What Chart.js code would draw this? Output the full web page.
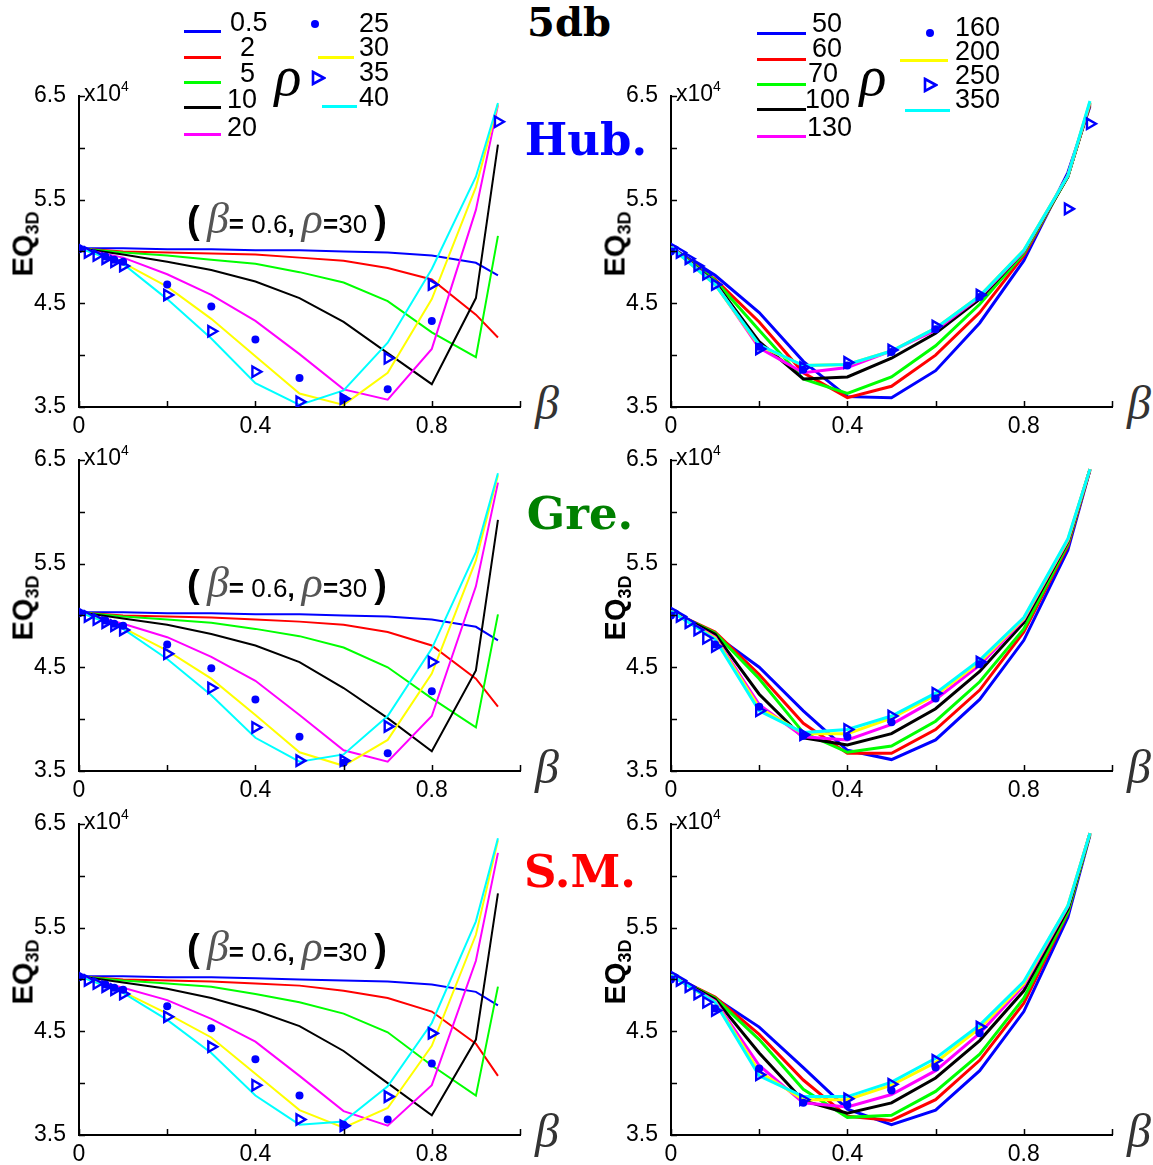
<!DOCTYPE html>
<html>
<head>
<meta charset="utf-8">
<script src="https://cdn.jsdelivr.net/npm/chart.js@4.4.0/dist/chart.umd.min.js"></script>
<style>
  body { margin: 0; background: #fff; width: 1153px; height: 1165px; position: relative; overflow: hidden;
         font-family: "Liberation Sans", Arial, sans-serif; }
  canvas { position: absolute; }
  .t { position: absolute; white-space: nowrap; line-height: 1; color: #000; }
  .c { transform: translate(-50%, -50%); }
  .title { font-family: "DejaVu Serif", serif; font-weight: bold; }
  .greek { font-family: "Liberation Serif", serif; font-style: italic; color: #333; }
  .ylab { font-weight: bold; font-size: 29px; transform: translate(-50%, -50%) rotate(-90deg); }
  .ylab sub { font-size: 18px; vertical-align: -6px; }
  .exp { font-size: 23px; }
  .exp sup { font-size: 14px; vertical-align: 10px; }
  .note { font-size: 26px; }
  .note .par { font-size: 38px; font-weight: bold; }
  .note .g { font-size: 44px; font-family: "Liberation Serif", serif; font-style: italic; color: #555; }
  .leg { font-size: 27px; }
</style>
</head>
<body>
<script>
// beta grid of the lines and of the marker series
const betaLine = [0, 0.1, 0.2, 0.3, 0.4, 0.5, 0.6, 0.7, 0.8, 0.9, 0.95];
const betaMark = [0, 0.02, 0.04, 0.06, 0.08, 0.1, 0.2, 0.3, 0.4, 0.5, 0.6, 0.7, 0.8, 0.9, 0.95];

// rho labels: 7 lines, then dots, then triangles
const rhoLow = ['0.5', '2', '5', '10', '20', '30', '40', '25', '35'];
const rhoHigh = ['50', '60', '70', '100', '130', '200', '350', '160', '250'];
const lineColors = ['#0000ff', '#ff0000', '#00ff00', '#000000', '#ff00ff', '#ffff00', '#00ffff'];
const markColor = '#0000ff';

const xTickLabels = ['0', '0.4', '0.8'];
const yTickLabels = ['3.5', '4.5', '5.5', '6.5'];

// EQ3D (x10^4), Huber, low rho
const hubLowLines = [
  [5.03, 5.03, 5.02, 5.02, 5.01, 5.01, 5.00, 4.99, 4.96, 4.89, 4.77],
  [5.03, 5.00, 4.99, 4.98, 4.97, 4.94, 4.91, 4.84, 4.73, 4.39, 4.17],
  [5.03, 4.99, 4.96, 4.92, 4.88, 4.80, 4.70, 4.52, 4.22, 3.98, 5.15],
  [5.03, 4.97, 4.90, 4.82, 4.71, 4.55, 4.32, 4.02, 3.72, 4.55, 6.03],
  [5.03, 4.94, 4.78, 4.58, 4.33, 4.01, 3.67, 3.57, 4.06, 5.40, 6.41],
  [5.03, 4.89, 4.66, 4.35, 3.99, 3.63, 3.52, 3.83, 4.54, 5.62, 6.42],
  [5.03, 4.88, 4.54, 4.16, 3.73, 3.52, 3.66, 4.12, 4.83, 5.72, 6.43]
];
const hubLowDots = [5.02, null, null, 4.95, 4.92, 4.90, 4.68, 4.47, 4.15, 3.78, 3.58, 3.67, 4.33, null, null];
const hubLowTris = [5.03, 4.99, 4.96, 4.93, 4.90, 4.86, 4.58, 4.23, 3.84, 3.55, 3.58, 3.97, 4.68, null, 6.25];

// Geman-McClure, low rho
const greLowLines = [
  [5.03, 5.03, 5.02, 5.02, 5.01, 5.01, 5.00, 4.99, 4.96, 4.89, 4.76],
  [5.03, 5.00, 4.99, 4.98, 4.96, 4.94, 4.91, 4.84, 4.71, 4.39, 4.12],
  [5.03, 4.99, 4.96, 4.93, 4.87, 4.80, 4.69, 4.50, 4.20, 3.92, 5.01],
  [5.03, 4.97, 4.91, 4.82, 4.71, 4.55, 4.30, 4.01, 3.69, 4.47, 5.92],
  [5.03, 4.92, 4.79, 4.60, 4.37, 4.04, 3.70, 3.59, 4.03, 5.28, 6.28],
  [5.03, 4.88, 4.66, 4.39, 4.04, 3.68, 3.55, 3.80, 4.44, 5.53, 6.35],
  [5.03, 4.87, 4.58, 4.23, 3.82, 3.59, 3.66, 4.03, 4.68, 5.61, 6.37]
];
const greLowDots = [5.02, null, null, 4.95, 4.92, 4.90, 4.72, 4.49, 4.19, 3.83, 3.58, 3.67, 4.27, null, null];
const greLowTris = [5.03, 4.99, 4.96, 4.93, 4.90, 4.86, 4.63, 4.30, 3.92, 3.60, 3.60, 3.93, 4.55, null, null];

// S.M., low rho
const smLowLines = [
  [5.03, 5.03, 5.02, 5.02, 5.01, 5.00, 4.99, 4.98, 4.95, 4.88, 4.75],
  [5.03, 5.00, 4.99, 4.98, 4.96, 4.94, 4.89, 4.82, 4.69, 4.38, 4.07],
  [5.03, 4.99, 4.96, 4.93, 4.86, 4.78, 4.67, 4.49, 4.17, 3.88, 4.93],
  [5.03, 4.97, 4.91, 4.82, 4.70, 4.55, 4.31, 4.00, 3.69, 4.42, 5.83],
  [5.03, 4.92, 4.80, 4.62, 4.40, 4.07, 3.73, 3.59, 3.98, 5.18, 6.22],
  [5.03, 4.88, 4.67, 4.44, 4.09, 3.74, 3.57, 3.76, 4.36, 5.43, 6.34],
  [5.03, 4.87, 4.61, 4.29, 3.88, 3.60, 3.63, 3.97, 4.58, 5.56, 6.36]
];
const smLowDots = [5.02, null, null, 4.95, 4.92, 4.90, 4.74, 4.53, 4.23, 3.88, 3.60, 3.65, 4.19, null, null];
const smLowTris = [5.03, 4.99, 4.96, 4.93, 4.90, 4.86, 4.64, 4.35, 3.98, 3.65, 3.59, 3.87, 4.48, null, null];

// Huber, high rho
const hubHighLines = [
  [5.04, 4.77, 4.41, 3.94, 3.60, 3.59, 3.85, 4.31, 4.91, 5.76, 6.40],
  [5.04, 4.73, 4.32, 3.83, 3.59, 3.70, 4.00, 4.41, 4.96, 5.73, 6.41],
  [5.04, 4.72, 4.24, 3.77, 3.63, 3.79, 4.09, 4.49, 4.98, 5.72, 6.42],
  [5.04, 4.70, 4.13, 3.77, 3.79, 3.97, 4.21, 4.54, 5.00, 5.72, 6.43],
  [5.04, 4.69, 4.07, 3.83, 3.88, 4.04, 4.24, 4.56, 5.00, 5.73, 6.43],
  [5.04, 4.68, 4.09, 3.90, 3.91, 4.04, 4.26, 4.57, 5.01, 5.73, 6.44],
  [5.04, 4.68, 4.10, 3.90, 3.91, 4.04, 4.26, 4.57, 5.01, 5.73, 6.45]
];
const hubHighDots = [5.00, null, null, null, null, null, 4.08, 3.86, 3.90, 4.03, 4.25, 4.56, null, null, null];
const hubHighTris = [5.04, 4.99, 4.93, 4.86, 4.78, 4.68, 4.06, 3.88, 3.93, 4.05, 4.28, 4.58, null, 5.41, 6.23];

// Geman-McClure, high rho
const greHighLines = [
  [5.04, 4.81, 4.50, 4.08, 3.70, 3.61, 3.80, 4.19, 4.76, 5.63, 6.40],
  [5.04, 4.84, 4.43, 3.96, 3.67, 3.67, 3.90, 4.28, 4.84, 5.67, 6.40],
  [5.04, 4.83, 4.39, 3.87, 3.68, 3.74, 3.98, 4.36, 4.87, 5.69, 6.41],
  [5.04, 4.82, 4.24, 3.82, 3.75, 3.86, 4.10, 4.46, 4.93, 5.71, 6.41],
  [5.04, 4.79, 4.14, 3.83, 3.80, 3.95, 4.19, 4.52, 4.96, 5.72, 6.41],
  [5.04, 4.78, 4.11, 3.86, 3.86, 4.01, 4.23, 4.55, 4.97, 5.73, 6.41],
  [5.04, 4.77, 4.08, 3.87, 3.90, 4.03, 4.25, 4.57, 4.98, 5.74, 6.41]
];
const greHighDots = [5.00, null, null, null, null, 4.72, 4.12, 3.84, 3.83, 3.97, 4.20, 4.53, null, null, null];
const greHighTris = [5.04, 4.99, 4.93, 4.86, 4.78, 4.70, 4.08, 3.85, 3.90, 4.03, 4.25, 4.55, null, null, null];

// S.M., high rho
const smHighLines = [
  [5.04, 4.82, 4.54, 4.15, 3.75, 3.60, 3.74, 4.12, 4.69, 5.60, 6.39],
  [5.04, 4.83, 4.47, 4.03, 3.68, 3.64, 3.84, 4.22, 4.77, 5.64, 6.40],
  [5.04, 4.82, 4.42, 3.94, 3.67, 3.69, 3.92, 4.28, 4.82, 5.65, 6.40],
  [5.04, 4.81, 4.29, 3.83, 3.71, 3.81, 4.05, 4.41, 4.89, 5.68, 6.41],
  [5.04, 4.79, 4.17, 3.81, 3.77, 3.89, 4.12, 4.48, 4.94, 5.70, 6.41],
  [5.04, 4.78, 4.11, 3.84, 3.84, 3.98, 4.20, 4.53, 4.96, 5.71, 6.41],
  [5.04, 4.78, 4.07, 3.87, 3.87, 4.01, 4.24, 4.56, 4.98, 5.71, 6.41]
];
const smHighDots = [5.00, null, null, null, null, 4.72, 4.14, 3.81, 3.79, 3.93, 4.15, 4.48, null, null, null];
const smHighTris = [5.04, 4.99, 4.93, 4.86, 4.78, 4.70, 4.08, 3.84, 3.85, 3.99, 4.22, 4.54, null, null, null];

const FONT = '"Liberation Sans", Arial, sans-serif';
const colLeft = [79, 671];
const rowTop = [92, 456, 820];
const AREA_W = 441, AREA_H = 315;
const PAD_L = 70, PAD_T = 15, PAD_R = 10, PAD_B = 35;

const panels = [
  { row: 0, col: 0, lines: hubLowLines, dots: hubLowDots, tris: hubLowTris },
  { row: 0, col: 1, lines: hubHighLines, dots: hubHighDots, tris: hubHighTris },
  { row: 1, col: 0, lines: greLowLines, dots: greLowDots, tris: greLowTris },
  { row: 1, col: 1, lines: greHighLines, dots: greHighDots, tris: greHighTris },
  { row: 2, col: 0, lines: smLowLines, dots: smLowDots, tris: smLowTris },
  { row: 2, col: 1, lines: smHighLines, dots: smHighDots, tris: smHighTris }
];

// matlab style tick marks, drawn inside the axes
const innerTicks = {
  id: 'innerTicks',
  afterDraw(chart) {
    const { ctx, chartArea: a, scales: { x, y } } = chart;
    ctx.save();
    ctx.strokeStyle = '#000';
    ctx.lineWidth = 1.5;
    ctx.beginPath();
    y.ticks.forEach(t => {
      const py = Math.round(y.getPixelForValue(t.value)) + 0.5;
      ctx.moveTo(a.left, py);
      ctx.lineTo(a.left + 6, py);
    });
    x.ticks.forEach(t => {
      const px = Math.round(x.getPixelForValue(t.value)) + 0.5;
      ctx.moveTo(px, a.bottom);
      ctx.lineTo(px, a.bottom - 6);
    });
    ctx.stroke();
    ctx.restore();
  }
};

function addText(html, cls, x, y, style) {
  const d = document.createElement('div');
  d.className = 't ' + cls;
  d.innerHTML = html;
  d.style.left = x + 'px';
  d.style.top = y + 'px';
  if (style) Object.assign(d.style, style);
  document.body.appendChild(d);
  return d;
}

function makePanel(p) {
  const left = colLeft[p.col], top = rowTop[p.row];
  const cv = document.createElement('canvas');
  cv.width = PAD_L + AREA_W + PAD_R;
  cv.height = PAD_T + AREA_H + PAD_B;
  cv.style.left = (left - PAD_L) + 'px';
  cv.style.top = (top - PAD_T) + 'px';
  document.body.appendChild(cv);

  const lw = p.col === 0 ? 2 : 3;
  const datasets = p.lines.map((vals, i) => ({
    data: betaLine.map((b, j) => ({ x: b, y: vals[j] })),
    borderColor: lineColors[i],
    borderWidth: lw,
    pointRadius: 0,
    tension: 0,
    fill: false,
    order: 10 - i
  }));
  datasets.push({
    data: betaMark.map((b, j) => ({ x: b, y: p.dots[j] })),
    showLine: false,
    pointStyle: 'circle',
    pointRadius: 4,
    pointBackgroundColor: markColor,
    pointBorderWidth: 0,
    order: 1
  });
  datasets.push({
    data: betaMark.map((b, j) => ({ x: b, y: p.tris[j] })),
    showLine: false,
    pointStyle: 'triangle',
    pointRotation: 90,
    pointRadius: 6,
    pointBackgroundColor: 'rgba(255,255,255,0)',
    pointBorderColor: markColor,
    pointBorderWidth: 2.4,
    order: 0
  });

  new Chart(cv, {
    type: 'line',
    data: { datasets },
    options: {
      responsive: false,
      animation: false,
      devicePixelRatio: 1,
      layout: { padding: { top: PAD_T, right: PAD_R, left: 0, bottom: 0 } },
      plugins: { legend: { display: false }, tooltip: { enabled: false } },
      scales: {
        x: {
          type: 'linear', min: 0, max: 1,
          afterFit(s) { s.height = PAD_B; },
          grid: { display: false },
          border: { display: true, color: '#000', width: 2 },
          ticks: {
            stepSize: 0.2, autoSkip: false, maxRotation: 0, padding: -2, color: '#000',
            font: { family: FONT, size: 23 },
            callback: v => {
              const s = String(Math.round(v * 10) / 10);
              return xTickLabels.includes(s) ? s : '';
            }
          }
        },
        y: {
          min: 3.5, max: 6.5,
          afterFit(s) { s.width = PAD_L; },
          grid: { display: false },
          border: { display: true, color: '#000', width: 2 },
          ticks: {
            stepSize: 0.5, autoSkip: false, padding: 5, color: '#000',
            font: { family: FONT, size: 23 },
            callback: v => {
              const s = v.toFixed(1);
              return yTickLabels.includes(s) ? s : '';
            }
          }
        }
      }
    },
    plugins: [innerTicks]
  });

  addText('x10<sup>4</sup>', 'exp', left + 5, top - 13);
  addText('EQ<sub>3D</sub>', 'ylab', left - 54, top + 152);
  addText('β', 'greek c', left + 468, top + AREA_H - 4, { fontSize: '48px' });
  if (p.col === 0) {
    addText('<span class="par">(</span> <span class="g">β</span><b>=</b> 0.6<b>,</b> <span class="g">ρ</span><b>=</b>30 <span class="par">)</span>',
      'note c', left + 208, top + 127);
  }
}

panels.forEach(makePanel);

// titles
addText('5db', 'title c', 569, 22, { fontSize: '40px' });
addText('Hub.', 'title c', 586, 139, { fontSize: '45px', color: '#0000ff' });
addText('Gre.', 'title c', 580, 513, { fontSize: '45px', color: '#008000' });
addText('S.M.', 'title c', 580, 871, { fontSize: '45px', color: '#ff0000' });

// legends
function legLine(color, x1, x2, y) {
  const d = document.createElement('div');
  Object.assign(d.style, { position: 'absolute', left: x1 + 'px', top: (y - 1.5) + 'px',
    width: (x2 - x1) + 'px', height: '3px', background: color });
  document.body.appendChild(d);
}
function legDot(x, y) {
  const d = document.createElement('div');
  Object.assign(d.style, { position: 'absolute', left: (x - 4) + 'px', top: (y - 4) + 'px',
    width: '8px', height: '8px', borderRadius: '50%', background: markColor });
  document.body.appendChild(d);
}
function legTri(x, y) {
  const d = document.createElement('div');
  d.innerHTML = '<svg width="16" height="16"><polygon points="3,2 14,8 3,14" fill="none" stroke="' +
    markColor + '" stroke-width="2.6"/></svg>';
  Object.assign(d.style, { position: 'absolute', left: (x - 8) + 'px', top: (y - 8) + 'px', lineHeight: 0 });
  document.body.appendChild(d);
}
function legLabel(txt, x, y) {
  addText(txt, 'leg', x, y - 14);
}

function drawLegend(labels, lx1, lx2, ly, tx, ty, rhoX, c2) {
  for (let i = 0; i < 5; i++) {
    legLine(lineColors[i], lx1, lx2, ly[i]);
    legLabel(labels[i], tx[i], ty[i]);
  }
  addText('ρ', 'greek c', rhoX, 76, { fontSize: '56px', color: '#000' });
  legDot(c2.dot[0], c2.dot[1]);
  legLabel(labels[7], c2.tx, c2.ty[0]);
  legLine(lineColors[5], c2.yl[0], c2.yl[1], c2.yl[2]);
  legLabel(labels[5], c2.tx, c2.ty[1]);
  legTri(c2.tri[0], c2.tri[1]);
  legLabel(labels[8], c2.tx, c2.ty[2]);
  legLine(lineColors[6], c2.cl[0], c2.cl[1], c2.cl[2]);
  legLabel(labels[6], c2.tx, c2.ty[3]);
}

drawLegend(rhoLow, 184, 221, [31, 57, 82, 107, 134], [230, 240, 240, 227, 227], [23, 48, 74, 100, 128], 288,
  { dot: [315, 24], tri: [318, 78], yl: [318, 354, 57], cl: [322, 357, 106], tx: 359, ty: [24, 48, 73, 98] });
drawLegend(rhoHigh, 757, 806, [33, 59, 84, 109, 136], [812, 812, 808, 805, 807], [24, 49, 74, 100, 128], 873,
  { dot: [930, 33], tri: [930, 85], yl: [900, 948, 60], cl: [905, 950, 110], tx: 955, ty: [28, 52, 76, 100] });
</script>
</body>
</html>
